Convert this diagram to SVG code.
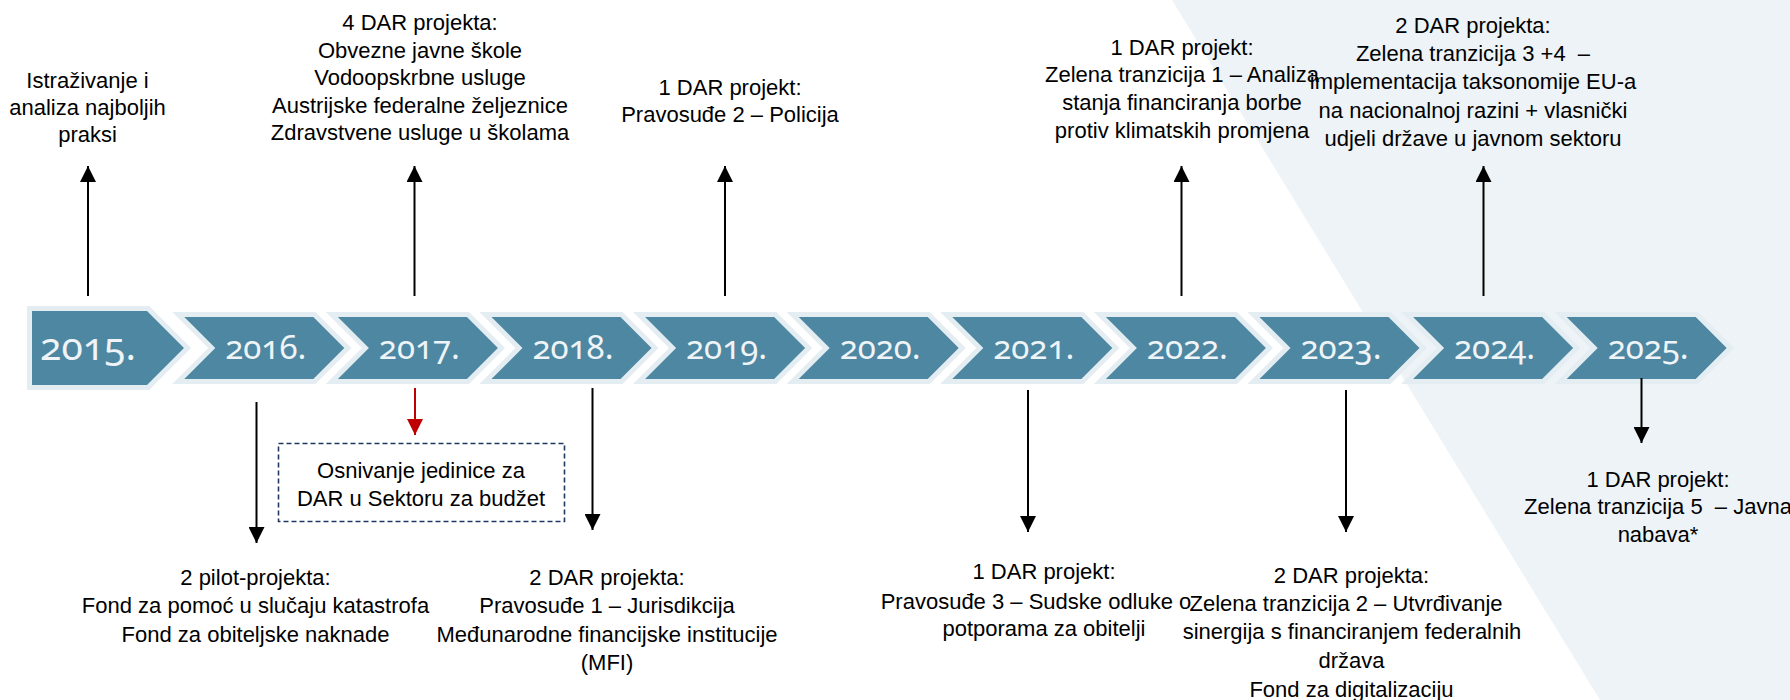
<svg xmlns="http://www.w3.org/2000/svg" width="1790" height="700" viewBox="0 0 1790 700">
<defs>
<style>
.lbl{font-family:"Liberation Sans",Arial,sans-serif;font-size:22px;fill:#000;text-anchor:middle;white-space:pre}
.yr{font-family:"Noto Sans","Open Sans",sans-serif;font-size:33px;fill:#EEF4F7;text-anchor:middle;font-variant-numeric:oldstyle-nums;font-feature-settings:"onum" 1}
.chevO{fill:#E3EDF2;stroke:#E3EDF2;stroke-width:10;stroke-linejoin:miter;stroke-miterlimit:4}
.chevI{fill:#4E87A1}
.ar{stroke:#000;stroke-width:2;fill:none}
.arR{stroke:#C00000;stroke-width:2;fill:none}
</style>
<marker id="ah" viewBox="0 0 16 16" refX="16" refY="8" markerWidth="16" markerHeight="16" markerUnits="userSpaceOnUse" orient="auto"><path d="M0,0 L16,8 L0,16 z" fill="#000"/></marker>
<marker id="ahR" viewBox="0 0 16 16" refX="16" refY="8" markerWidth="16" markerHeight="16" markerUnits="userSpaceOnUse" orient="auto"><path d="M0,0 L16,8 L0,16 z" fill="#C00000"/></marker>
</defs>
<rect x="0" y="0" width="1790" height="700" fill="#FFFFFF"/>
<polygon points="1172,0 1790,0 1790,700 1600,700" fill="#EDF3F6"/>

<g id="y2015">
<polygon class="chevO" points="32,311 147,311 184,348 147,385 32,385"/>
<polygon class="chevI" points="32,311 147,311 184,348 147,385 32,385"/>
<text class="yr" x="88" y="360" style="font-size:39px">2015.</text>
</g>
<g id="y2016"><polygon class="chevO" points="184.3,317 313.3,317 344.3,348 313.3,379 184.3,379 215.3,348"/><polygon class="chevI" points="184.3,317 313.3,317 344.3,348 313.3,379 184.3,379 215.3,348"/><text class="yr" x="265.8" y="359">2016.</text></g>
<g id="y2017"><polygon class="chevO" points="337.9,317 466.9,317 497.9,348 466.9,379 337.9,379 368.9,348"/><polygon class="chevI" points="337.9,317 466.9,317 497.9,348 466.9,379 337.9,379 368.9,348"/><text class="yr" x="419.4" y="359">2017.</text></g>
<g id="y2018"><polygon class="chevO" points="491.5,317 620.5,317 651.5,348 620.5,379 491.5,379 522.5,348"/><polygon class="chevI" points="491.5,317 620.5,317 651.5,348 620.5,379 491.5,379 522.5,348"/><text class="yr" x="573" y="359">2018.</text></g>
<g id="y2019"><polygon class="chevO" points="645.1,317 774.1,317 805.1,348 774.1,379 645.1,379 676.1,348"/><polygon class="chevI" points="645.1,317 774.1,317 805.1,348 774.1,379 645.1,379 676.1,348"/><text class="yr" x="726.6" y="359">2019.</text></g>
<g id="y2020"><polygon class="chevO" points="798.7,317 927.7,317 958.7,348 927.7,379 798.7,379 829.7,348"/><polygon class="chevI" points="798.7,317 927.7,317 958.7,348 927.7,379 798.7,379 829.7,348"/><text class="yr" x="880.2" y="359">2020.</text></g>
<g id="y2021"><polygon class="chevO" points="952.3,317 1081.3,317 1112.3,348 1081.3,379 952.3,379 983.3,348"/><polygon class="chevI" points="952.3,317 1081.3,317 1112.3,348 1081.3,379 952.3,379 983.3,348"/><text class="yr" x="1033.8" y="359">2021.</text></g>
<g id="y2022"><polygon class="chevO" points="1105.9,317 1234.9,317 1265.9,348 1234.9,379 1105.9,379 1136.9,348"/><polygon class="chevI" points="1105.9,317 1234.9,317 1265.9,348 1234.9,379 1105.9,379 1136.9,348"/><text class="yr" x="1187.4" y="359">2022.</text></g>
<g id="y2023"><polygon class="chevO" points="1259.5,317 1388.5,317 1419.5,348 1388.5,379 1259.5,379 1290.5,348"/><polygon class="chevI" points="1259.5,317 1388.5,317 1419.5,348 1388.5,379 1259.5,379 1290.5,348"/><text class="yr" x="1341" y="359">2023.</text></g>
<g id="y2024"><polygon class="chevO" points="1413.1,317 1542.1,317 1573.1,348 1542.1,379 1413.1,379 1444.1,348"/><polygon class="chevI" points="1413.1,317 1542.1,317 1573.1,348 1542.1,379 1413.1,379 1444.1,348"/><text class="yr" x="1494.6" y="359">2024.</text></g>
<g id="y2025"><polygon class="chevO" points="1566.7,317 1695.7,317 1726.7,348 1695.7,379 1566.7,379 1597.7,348"/><polygon class="chevI" points="1566.7,317 1695.7,317 1726.7,348 1695.7,379 1566.7,379 1597.7,348"/><text class="yr" x="1648.2" y="359">2025.</text></g>

<g id="connectors">
<line class="ar" x1="88" y1="296" x2="88" y2="166" marker-end="url(#ah)"/>
<line class="ar" x1="414.5" y1="296" x2="414.5" y2="166" marker-end="url(#ah)"/>
<line class="ar" x1="725" y1="296" x2="725" y2="166" marker-end="url(#ah)"/>
<line class="ar" x1="1181.5" y1="296" x2="1181.5" y2="166" marker-end="url(#ah)"/>
<line class="ar" x1="1483.5" y1="296" x2="1483.5" y2="166" marker-end="url(#ah)"/>
<line class="ar" x1="256.5" y1="402" x2="256.5" y2="543" marker-end="url(#ah)"/>
<line class="arR" x1="415" y1="388" x2="415" y2="435" marker-end="url(#ahR)"/>
<line class="ar" x1="592.5" y1="388" x2="592.5" y2="530" marker-end="url(#ah)"/>
<line class="ar" x1="1028" y1="390" x2="1028" y2="532" marker-end="url(#ah)"/>
<line class="ar" x1="1346" y1="390" x2="1346" y2="532" marker-end="url(#ah)"/>
<line class="ar" x1="1641.5" y1="378" x2="1641.5" y2="443" marker-end="url(#ah)"/>
</g>

<g id="lbl2015">
<text class="lbl" x="87.5" y="88">Istraživanje i</text>
<text class="lbl" x="87.5" y="115">analiza najboljih</text>
<text class="lbl" x="87.5" y="142">praksi</text>
</g>
<g id="lbl2017">
<text class="lbl" x="420" y="30">4 DAR projekta:</text>
<text class="lbl" x="420" y="57.5">Obvezne javne škole</text>
<text class="lbl" x="420" y="85">Vodoopskrbne usluge</text>
<text class="lbl" x="420" y="112.5">Austrijske federalne željeznice</text>
<text class="lbl" x="420" y="140">Zdravstvene usluge u školama</text>
</g>
<g id="lbl2019">
<text class="lbl" x="730" y="94.5">1 DAR projekt:</text>
<text class="lbl" x="730" y="121.5">Pravosuđe 2 – Policija</text>
</g>
<g id="lbl2022">
<text class="lbl" x="1182" y="54.5">1 DAR projekt:</text>
<text class="lbl" x="1182" y="82">Zelena tranzicija 1 – Analiza</text>
<text class="lbl" x="1182" y="109.5">stanja financiranja borbe</text>
<text class="lbl" x="1182" y="137.5">protiv klimatskih promjena</text>
</g>
<g id="lbl2024">
<text class="lbl" x="1473" y="32.5">2 DAR projekta:</text>
<text class="lbl" x="1473" y="61">Zelena tranzicija 3 +4  –</text>
<text class="lbl" x="1473" y="89">implementacija taksonomije EU-a</text>
<text class="lbl" x="1473" y="117.5">na nacionalnoj razini + vlasnički</text>
<text class="lbl" x="1473" y="145.5">udjeli države u javnom sektoru</text>
</g>
<g id="box2017">
<rect x="278.5" y="443.5" width="286" height="78" fill="none" stroke="#1F3864" stroke-width="1.6" stroke-dasharray="5,3"/>
<text class="lbl" x="421" y="477.5">Osnivanje jedinice za</text>
<text class="lbl" x="421" y="505.5">DAR u Sektoru za budžet</text>
</g>
<g id="lbl2016">
<text class="lbl" x="255.5" y="584.5">2 pilot-projekta:</text>
<text class="lbl" x="255.5" y="613">Fond za pomoć u slučaju katastrofa</text>
<text class="lbl" x="255.5" y="641.5">Fond za obiteljske naknade</text>
</g>
<g id="lbl2018">
<text class="lbl" x="607" y="584.5">2 DAR projekta:</text>
<text class="lbl" x="607" y="612.5">Pravosuđe 1 – Jurisdikcija</text>
<text class="lbl" x="607" y="641.5">Međunarodne financijske institucije</text>
<text class="lbl" x="607" y="670">(MFI)</text>
</g>
<g id="lbl2021">
<text class="lbl" x="1044" y="579">1 DAR projekt:</text>
<text class="lbl" x="1036" y="608.5">Pravosuđe 3 – Sudske odluke o</text>
<text class="lbl" x="1044" y="636">potporama za obitelji</text>
</g>
<g id="lbl2023">
<text class="lbl" x="1351.5" y="582.5">2 DAR projekta:</text>
<text class="lbl" x="1346" y="610.5">Zelena tranzicija 2 – Utvrđivanje</text>
<text class="lbl" x="1352" y="639">sinergija s financiranjem federalnih</text>
<text class="lbl" x="1351.5" y="668">država</text>
<text class="lbl" x="1351.5" y="696.5">Fond za digitalizaciju</text>
</g>
<g id="lbl2025">
<text class="lbl" x="1658" y="486.5">1 DAR projekt:</text>
<text class="lbl" x="1658" y="514">Zelena tranzicija 5  – Javna</text>
<text class="lbl" x="1658" y="541.5">nabava*</text>
</g>
</svg>
